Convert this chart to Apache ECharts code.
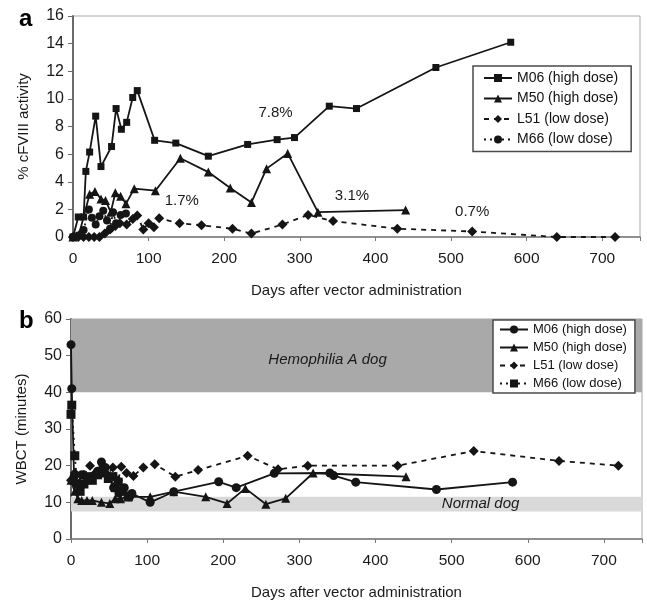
<!DOCTYPE html>
<html>
<head>
<meta charset="utf-8">
<script src="https://cdn.jsdelivr.net/npm/echarts@6/dist/echarts.min.js"></script>
<style>
  html, body { margin: 0; padding: 0; background: #fff; }
  #chart { width: 647px; height: 601px; }
</style>
</head>
<body>
<div id="chart"></div>
<script>
// ---- Panel a: % cFVIII activity over time, [day, value] ----
const actM06 = [[0,0],[7,1.45],[14,1.45],[17,4.75],[22,6.15],[30,8.75],[37,5.1],[51,6.55],[57,9.3],[64,7.8],[71,8.3],[79,10.1],[85,10.6],[108,7.0],[136,6.8],[179,5.85],[231,6.7],[270,7.05],[293,7.2],[339,9.47],[375,9.3],[480,12.27],[579,14.1]];
const actM50 = [[0,0],[8,0.2],[22,3.1],[29,3.3],[37,2.75],[43,2.65],[50,1.8],[56,3.2],[63,2.95],[70,2.4],[81,3.5],[109,3.35],[142,5.7],[179,4.7],[208,3.55],[236,2.5],[256,4.95],[284,6.05],[324,1.8],[440,1.95]];
const actL51 = [[0,0],[7,0],[14,0],[21,0],[28,0],[35,0],[42,0.25],[49,0.55],[56,0.8],[62,1.0],[71,0.9],[79,1.3],[85,1.55],[93,0.55],[100,1.0],[107,0.7],[114,1.35],[141,1.0],[170,0.85],[211,0.6],[236,0.25],[277,0.9],[311,1.6],[344,1.15],[429,0.6],[528,0.4],[640,0],[717,0]];
const actM66 = [[0,0],[7,0.1],[14,0.5],[21,2.0],[25,1.4],[30,0.9],[35,1.5],[40,1.9],[45,1.2],[49,0.6],[53,1.8],[57,1.0],[63,1.6],[70,1.7]];
// percentage annotations: [day, value, text]
const actNotes = [[268,9.0,'7.8%'],[144,2.65,'1.7%'],[369,3.0,'3.1%'],[528,1.85,'0.7%']];

// ---- Panel b: whole blood clotting time (minutes), [day, value] ----
const wbM06 = [[0,53],[1,41],[4,17],[9,15],[14,17.5],[21,16.5],[28,17],[35,18.5],[40,21],[45,19.5],[50,17],[56,14],[63,12.5],[70,14],[77,11.5],[80,12.4],[104,10],[135,12.9],[194,15.6],[217,14],[267,17.9],[340,18],[345,17.3],[374,15.5],[480,13.5],[580,15.5]];
const wbM50 = [[0,16],[5,13],[9,11],[14,10.5],[21,10.5],[28,10.5],[40,10],[51,9.7],[58,11],[65,11],[75,11.5],[104,11.5],[135,12.9],[177,11.5],[205,9.7],[229,13.8],[256,9.5],[282,11.1],[318,18],[440,17]];
const wbL51 = [[0,16],[5,18],[10,15],[17,17.5],[25,20],[32,18],[40,19],[48,17.5],[55,19.5],[62,16],[66,19.7],[73,18],[82,17.2],[95,19.5],[110,20.4],[137,17],[167,18.8],[232,22.7],[272,19],[311,20],[429,20],[529,24],[641,21.3],[719,20]];
const wbM66 = [[0,34],[1,36.5],[5,22.7],[8,15],[12,13],[17,15],[22,17],[28,16],[35,17.5],[42,18],[49,16.5],[55,17],[58,14],[62,15.5],[68,13],[75,11.5]];
// reference ranges: [from, to, text, text position day, text position value]
const hemophiliaRange = [40, 60, 'Hemophilia A dog', 337, 49];
const normalRange = [7.5, 11.5, 'Normal dog', 538, 9.5];

const dogNames = ['M06 (high dose)', 'M50 (high dose)', 'L51 (low dose)', 'M66 (low dose)'];
const xTicks = [0, 100, 200, 300, 400, 500, 600, 700];
const yTicksA = [0, 2, 4, 6, 8, 10, 12, 14, 16];
const yTicksB = [0, 10, 20, 30, 40, 50, 60];

const FONT = 'Liberation Sans, Arial, Helvetica, sans-serif';
const INK = '#151515';

function lineSeries(prefix, name, data, idx, symbol, size, type) {
  return {
    name: prefix + name,
    type: 'line',
    xAxisIndex: idx, yAxisIndex: idx,
    data: data,
    symbol: symbol,
    symbolSize: size,
    showSymbol: true,
    animation: false,
    itemStyle: { color: INK },
    lineStyle: { color: INK, width: 1.8, type: type },
    z: 3
  };
}

function xAxis(idx) {
  return {
    type: 'value', gridIndex: idx, min: 0, max: 750, interval: 100,
    name: 'Days after vector administration', nameLocation: 'middle', nameGap: 46,
    nameTextStyle: { fontFamily: FONT, fontSize: 15, color: '#1a1a1a' },
    axisLine: { lineStyle: { color: '#7a7a7a', width: 1.5 } },
    axisTick: { show: true, length: 4, lineStyle: { color: '#7a7a7a' } },
    axisLabel: {
      fontFamily: FONT, fontSize: 15.5, color: '#1a1a1a', margin: 14,
      formatter: v => xTicks.includes(v) ? String(v) : ''
    },
    splitLine: { show: false }
  };
}

function yAxis(idx, ticks, name, gap) {
  return {
    type: 'value', gridIndex: idx, min: ticks[0], max: ticks[ticks.length - 1],
    interval: ticks[1] - ticks[0],
    name: name, nameLocation: 'middle', nameGap: gap, nameRotate: 90,
    nameTextStyle: { fontFamily: FONT, fontSize: 15, color: '#1a1a1a' },
    axisLine: { show: true, lineStyle: { color: '#6a6a6a', width: 2 } },
    axisTick: { show: true, length: 5, lineStyle: { color: '#6a6a6a' } },
    axisLabel: { fontFamily: FONT, fontSize: 16, color: '#1a1a1a', margin: 9 },
    splitLine: { show: false }
  };
}

function legend(prefix, left, top, gap, pad, size) {
  return {
    orient: 'vertical', left: left, top: top,
    data: dogNames.map(n => prefix + n),
    formatter: n => n.slice(prefix.length),
    itemWidth: 28, itemHeight: 10, itemGap: gap,
    padding: pad,
    backgroundColor: '#fff',
    borderColor: '#4a4a4a', borderWidth: 1.5,
    textStyle: { fontFamily: FONT, fontSize: size, color: '#111' },
    selectedMode: false
  };
}

const chart = echarts.init(document.getElementById('chart'), null, { renderer: 'canvas' });
chart.setOption({
  backgroundColor: '#fff',
  animation: false,
  textStyle: { fontFamily: FONT },
  title: [
    { text: 'a', left: 14, top: 2, textStyle: { fontFamily: FONT, fontSize: 24, fontWeight: 'bold', color: '#000' } },
    { text: 'b', left: 14, top: 304, textStyle: { fontFamily: FONT, fontSize: 24, fontWeight: 'bold', color: '#000' } }
  ],
  grid: [
    { left: 73, top: 16, width: 567, height: 221, show: true, borderColor: '#a8a8a8', borderWidth: 1, backgroundColor: 'transparent' },
    { left: 71, top: 319, width: 571, height: 220, show: true, borderColor: '#a8a8a8', borderWidth: 1, backgroundColor: 'transparent' }
  ],
  xAxis: [xAxis(0), xAxis(1)],
  yAxis: [yAxis(0, yTicksA, '% cFVIII activity', 42), yAxis(1, yTicksB, 'WBCT (minutes)', 42)],
  legend: [
    legend('a:', 473, 66, 6.5, [5, 13, 5, 10], 14),
    legend('b:', 493, 320, 5, [3, 8, 3, 6], 13)
  ],
  series: [
    lineSeries('a:', dogNames[0], actM06, 0, 'rect', 7, 'solid'),
    lineSeries('a:', dogNames[1], actM50, 0, 'triangle', 9, 'solid'),
    lineSeries('a:', dogNames[2], actL51, 0, 'diamond', 10, [5, 5]),
    lineSeries('a:', dogNames[3], actM66, 0, 'circle', 8, [2, 4]),

    // reference ranges drawn behind the curves
    {
      type: 'line', xAxisIndex: 1, yAxisIndex: 1, data: [], silent: true, z: 1,
      markArea: {
        silent: true,
        data: [
          [{ yAxis: hemophiliaRange[0], itemStyle: { color: '#a9a9a9' } }, { yAxis: hemophiliaRange[1] }],
          [{ yAxis: normalRange[0], itemStyle: { color: '#d9d9d9' } }, { yAxis: normalRange[1] }]
        ]
      }
    },
    lineSeries('b:', dogNames[0], wbM06, 1, 'circle', 9, 'solid'),
    lineSeries('b:', dogNames[1], wbM50, 1, 'triangle', 9, 'solid'),
    lineSeries('b:', dogNames[2], wbL51, 1, 'diamond', 10, [5, 5]),
    lineSeries('b:', dogNames[3], wbM66, 1, 'rect', 9, [2, 4])
  ]
});

// Text annotations placed at data coordinates once the grids are laid out.
function noteText(gridIndex, day, value, text, italic) {
  const p = chart.convertToPixel({ gridIndex: gridIndex }, [day, value]);
  return {
    type: 'text', x: p[0], y: p[1], z: 10, silent: true,
    style: {
      text: text, fill: '#1a1a1a', font: (italic ? 'italic ' : '') + '15px ' + FONT,
      align: 'center', verticalAlign: 'middle'
    }
  };
}
const notes = actNotes.map(n => noteText(0, n[0], n[1], n[2], false));
notes.push(noteText(1, hemophiliaRange[3], hemophiliaRange[4], hemophiliaRange[2], true));
notes.push(noteText(1, normalRange[3], normalRange[4], normalRange[2], true));
chart.setOption({ graphic: notes });
</script>
</body>
</html>
